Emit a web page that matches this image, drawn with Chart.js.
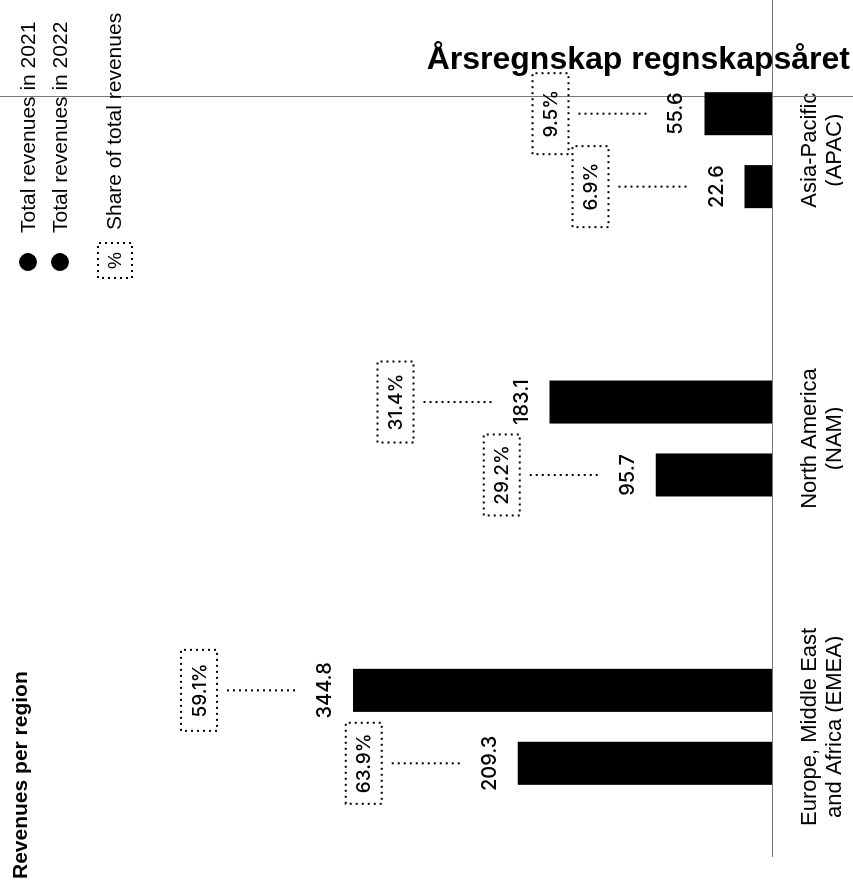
<!DOCTYPE html>
<html>
<head>
<meta charset="utf-8">
<title>Revenues per region</title>
<script src="https://cdn.jsdelivr.net/npm/chart.js@4.4.1/dist/chart.umd.min.js"></script>
<style>
  html, body { margin: 0; padding: 0; background: #fff; overflow: hidden; }
  /* chart is built upright (bars growing up) and turned a quarter left */
  #stage {
    position: absolute; left: 0; top: 0;
    width: 885px; height: 853px;
    transform-origin: 0 0;
    transform: translate(0, 885px) rotate(-90deg);
  }
</style>
</head>
<body>
<div id="stage"><canvas id="chart" width="885" height="853"></canvas></div>
<script>
const regions = [
  ['Europe, Middle East', 'and Africa (EMEA)'],
  ['North America', '(NAM)'],
  ['Asia-Pacific', '(APAC)']
];
const revenue2021 = [209.3, 95.7, 22.6];
const revenue2022 = [344.8, 183.1, 55.6];
const share2021 = [63.9, 29.2, 6.9];
const share2022 = [59.1, 31.4, 9.5];
const seriesNames = ['Total revenues in 2021', 'Total revenues in 2022'];
const shareName = 'Share of total revenues';
const chartTitle = 'Årsregnskap regnskapsåret';
const subTitle = 'Revenues per region';

const SANS = '"Liberation Sans", Arial, sans-serif';
const NUM = 'Inter, "Liberation Sans", sans-serif';
const LINE = '#777';

function dotted(ctx, fn) {
  ctx.save();
  ctx.strokeStyle = '#000';
  ctx.lineWidth = 2;
  ctx.setLineDash([2, 4]);
  ctx.beginPath();
  fn();
  ctx.stroke();
  ctx.restore();
}

const annotate = {
  id: 'annotate',
  beforeDatasetsDraw(chart) {
    const ctx = chart.ctx;
    ctx.save();
    ctx.strokeStyle = LINE;
    ctx.lineWidth = 1;
    ctx.beginPath();
    ctx.moveTo(788.5, 0);
    ctx.lineTo(788.5, 853);
    ctx.moveTo(28, 772.5);
    ctx.lineTo(885, 772.5);
    ctx.stroke();
    ctx.restore();
  },
  afterDatasetsDraw(chart) {
    const ctx = chart.ctx;
    const shares = [share2021, share2022];
    chart.data.datasets.forEach((ds, i) => {
      chart.getDatasetMeta(i).data.forEach((bar, j) => {
        const x = bar.x, top = bar.y;
        ctx.save();
        ctx.fillStyle = '#000';
        ctx.textAlign = 'center';
        ctx.font = '500 20px ' + NUM;
        ctx.textBaseline = 'alphabetic';
        ctx.fillText(ds.data[j].toFixed(1), x, top - 22);
        dotted(ctx, () => { ctx.moveTo(x, top - 58); ctx.lineTo(x, top - 127); });
        dotted(ctx, () => { ctx.rect(x - 40.5, top - 172, 81, 36); });
        ctx.font = '500 19px ' + NUM;
        ctx.textBaseline = 'middle';
        ctx.fillText(shares[i][j].toFixed(1) + '%', x, top - 153);
        ctx.restore();
      });
    });
  },
  afterDraw(chart) {
    const ctx = chart.ctx;
    ctx.save();
    ctx.fillStyle = '#000';

    // legend, top right of the upright chart
    [28, 60].forEach((y, i) => {
      ctx.beginPath();
      ctx.arc(623, y, 9, 0, Math.PI * 2);
      ctx.fill();
      ctx.font = '21px ' + SANS;
      ctx.textAlign = 'left';
      ctx.textBaseline = 'middle';
      ctx.fillText(seriesNames[i], 652, y + 1);
    });
    dotted(ctx, () => { ctx.rect(607, 98, 35, 34); });
    ctx.font = '19px ' + SANS;
    ctx.textAlign = 'center';
    ctx.textBaseline = 'middle';
    ctx.fillText('%', 624.5, 116);
    ctx.font = '21px ' + SANS;
    ctx.textAlign = 'left';
    ctx.fillText(shareName, 655, 115);

    ctx.font = 'bold 21px ' + SANS;
    ctx.textBaseline = 'alphabetic';
    ctx.fillText(subTitle, 6, 27);

    // title reads horizontally once the page is turned
    ctx.translate(816, 850);
    ctx.rotate(Math.PI / 2);
    ctx.font = 'bold 32px ' + SANS;
    ctx.textAlign = 'right';
    ctx.fillText(chartTitle, 0, 0);
    ctx.restore();
  }
};

new Chart(document.getElementById('chart'), {
  type: 'bar',
  data: {
    labels: regions,
    datasets: [
      { label: seriesNames[0], data: revenue2021, backgroundColor: '#000' },
      { label: seriesNames[1], data: revenue2022, backgroundColor: '#000' }
    ]
  },
  options: {
    responsive: false,
    animation: false,
    categoryPercentage: 0.506,
    barPercentage: 0.59,
    layout: { padding: { top: 43, left: 14, right: 6, bottom: 10 } },
    plugins: {
      legend: { display: false },
      tooltip: { enabled: false }
    },
    scales: {
      x: {
        grid: { display: false, drawTicks: false },
        border: { display: false },
        afterFit(scale) { scale.height = 71; },
        ticks: {
          color: '#000',
          padding: 25,
          maxRotation: 0,
          autoSkip: false,
          font: { family: SANS, size: 22, lineHeight: 1.15 }
        }
      },
      y: {
        display: false,
        min: 0,
        max: 600
      }
    }
  },
  plugins: [annotate]
});
</script>
</body>
</html>
